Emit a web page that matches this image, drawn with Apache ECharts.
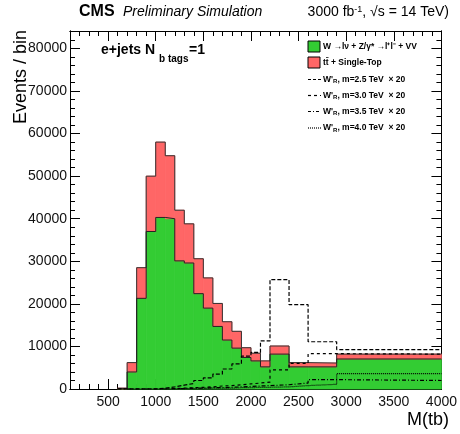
<!DOCTYPE html>
<html>
<head>
<meta charset="utf-8">
<script src="https://cdn.jsdelivr.net/npm/echarts@6/dist/echarts.min.js"></script>
<style>
html,body{margin:0;padding:0;background:#fff;}
#chart{width:460px;height:434px;}
</style>
</head>
<body>
<div id="chart"></div>
<script>
// ---- data ----
const binEdges = [600,700,800,900,1000,1100,1200,1300,1400,1500,1600,1700,1800,1900,2000,2100,2200,2400,2600,2900,4000];
const wjetsZjetsVV = [0,4000,21300,37000,40300,40000,30100,29600,22400,19000,14700,11500,9600,7400,6600,5200,8200,5200,5200,7050];
const ttbarSingleTop = [200,2200,7200,13000,17700,14800,11900,9200,8200,7100,5400,4300,3950,2300,1800,1400,1900,1000,900,1150];
const wprime25 = [0,0,0,0,200,500,900,1300,2000,2600,3500,4700,5900,7700,8600,11300,25700,19800,11100,9250];
const wprime30 = [0,0,0,0,0,100,200,300,400,500,700,800,1000,1200,1400,1600,4500,6000,8300,8200];
const wprime35 = [0,0,0,0,0,100,100,200,200,300,300,400,500,600,700,800,1000,1400,2200,2000];
const wprime40 = [0,0,0,0,0,0,100,100,100,200,200,200,300,300,400,400,500,800,1100,3600];
const xTickLabels = [500,1000,1500,2000,2500,3000,3500,4000];
const yTickLabels = [0,10000,20000,30000,40000,50000,60000,70000,80000];

// ---- helpers ----
const FONT = '"Liberation Sans", Arial, Helvetica, sans-serif';
const totals = wjetsZjetsVV.map((v, i) => v + ttbarSingleTop[i]);
const greenRects = wjetsZjetsVV.map((v, i) => [binEdges[i], binEdges[i + 1], 0, v]);
const redRects = ttbarSingleTop.map((v, i) => [binEdges[i], binEdges[i + 1], wjetsZjetsVV[i], totals[i]]);
function stepData(vals) {
  return binEdges.map((e, i) => [e, vals[Math.min(i, vals.length - 1)]]);
}
const xMinor = []; for (let v = 100; v <= 4000; v += 100) xMinor.push(v);
const yMinor = []; for (let v = 0; v <= 84000; v += 2000) yMinor.push(v);

function renderBin(params, api) {
  const p0 = api.coord([api.value(0), api.value(2)]);
  const p1 = api.coord([api.value(1), api.value(3)]);
  const c = api.visual('color');
  return {
    type: 'rect',
    shape: { x: p0[0], y: p1[1], width: p1[0] - p0[0], height: p0[1] - p1[1] },
    style: { fill: c, stroke: c, lineWidth: 0.8 }
  };
}

const XMIN = 100, XMAX = 4000, YMIN = 0, YMAX = 84100;
const black = { color: '#000', width: 1 };
function xAxisDef(pos, ticks, len, labels) {
  return {
    type: 'value', min: XMIN, max: XMAX, position: pos,
    axisLine: { show: true, onZero: false, lineStyle: black },
    axisTick: { show: true, inside: true, length: len, customValues: ticks, lineStyle: black },
    axisLabel: labels ? { show: true, customValues: xTickLabels, fontSize: 14, color: '#111', fontFamily: FONT, margin: 6, formatter: v => String(v) } : { show: false },
    splitLine: { show: false }
  };
}
function yAxisDef(pos, ticks, len, labels) {
  return {
    type: 'value', min: YMIN, max: YMAX, position: pos,
    axisLine: { show: true, onZero: false, lineStyle: black },
    axisTick: { show: true, inside: true, length: len, customValues: ticks, lineStyle: black },
    axisLabel: labels ? { show: true, customValues: yTickLabels, fontSize: 14, color: '#111', fontFamily: FONT, margin: 3, formatter: v => String(v) } : { show: false },
    splitLine: { show: false }
  };
}
function sigLine(name, vals, dash) {
  return {
    name: name, type: 'line', step: 'end', data: stepData(vals), symbol: 'none', silent: true, z: 5,
    lineStyle: { color: '#000', width: 1.2, type: dash }
  };
}

const chart = echarts.init(document.getElementById('chart'), null, { renderer: 'canvas' });
const legX = 308, legTx = 323;
const legFont = 'bold 8.5px ' + FONT;
const subRich = { n: { fontSize: 8.5, fontWeight: 'bold', fontFamily: FONT, color: '#000' }, s: { fontSize: 6, fontWeight: 'bold', fontFamily: FONT, color: '#000', verticalAlign: 'bottom', padding: [4, 0, 0, 0] } };
function legLine(y, dash) {
  return { type: 'line', shape: { x1: legX, y1: y, x2: legX + 13, y2: y }, style: { stroke: '#000', lineWidth: 1.2, lineDash: dash } };
}
function legWText(y, m) {
  return { type: 'text', x: legTx, y: y, style: { text: "{n|W'}{s|R}{n|, m=" + m + " TeV  \u00d7 20}", rich: subRich, verticalAlign: 'middle', align: 'left' } };
}

chart.setOption({
  animation: false,
  backgroundColor: '#fff',
  grid: { left: 70, right: 10, top: 31, bottom: 45, containLabel: false },
  xAxis: [
    xAxisDef('bottom', xTickLabels, 10, true),
    xAxisDef('bottom', xMinor, 5, false),
    xAxisDef('top', xTickLabels, 10, false),
    xAxisDef('top', xMinor, 5, false)
  ],
  yAxis: [
    yAxisDef('left', yTickLabels, 10, true),
    yAxisDef('left', yMinor, 5, false),
    yAxisDef('right', yTickLabels, 10, false),
    yAxisDef('right', yMinor, 5, false)
  ],
  series: [
    { name: 'W+Z+VV', type: 'custom', renderItem: renderBin, data: greenRects, itemStyle: { color: '#33cc33' }, silent: true, z: 1 },
    { name: 'ttbar', type: 'custom', renderItem: renderBin, data: redRects, itemStyle: { color: '#ff6666' }, silent: true, z: 1 },
    { name: 'total outline', type: 'line', step: 'end', data: stepData(totals), symbol: 'none', silent: true, z: 3, lineStyle: { color: '#333', width: 1 } },
    { name: 'wjets outline', type: 'line', step: 'end', data: stepData(wjetsZjetsVV), symbol: 'none', silent: true, z: 3, lineStyle: { color: '#222', width: 1 } },
    sigLine('W 2.5', wprime25, [4, 2]),
    sigLine('W 3.0', wprime30, [3, 3]),
    sigLine('W 3.5', wprime35, [4, 2, 1, 2]),
    sigLine('W 4.0', wprime40, [1, 1])
  ],
  graphic: [
    { type: 'text', x: 79, y: 11.5, style: { text: 'CMS', font: 'bold 16px ' + FONT, fill: '#000', verticalAlign: 'middle' } },
    { type: 'text', x: 123, y: 12.5, style: { text: 'Preliminary Simulation', font: 'italic 14px ' + FONT, fill: '#000', verticalAlign: 'middle' } },
    { type: 'text', x: 449, y: 12.5, style: { text: '{n|3000 fb}{u|-1}{n|, \u221as = 14 TeV)}', align: 'right', verticalAlign: 'middle',
        rich: { n: { fontSize: 14, fontFamily: FONT, color: '#000' }, u: { fontSize: 9, fontFamily: FONT, color: '#000', verticalAlign: 'top' } } } },
    { type: 'text', x: 21, y: 30, rotation: Math.PI / 2, style: { text: 'Events / bin', font: '18px ' + FONT, fill: '#000', align: 'right', verticalAlign: 'middle' } },
    { type: 'text', x: 449, y: 420, style: { text: 'M(tb)', font: '18px ' + FONT, fill: '#000', align: 'right', verticalAlign: 'middle' } },
    { type: 'text', x: 101, y: 50, style: { text: 'e+jets N', font: 'bold 14px ' + FONT, fill: '#000', verticalAlign: 'middle' } },
    { type: 'text', x: 159, y: 59.5, style: { text: 'b tags', font: 'bold 10px ' + FONT, fill: '#000', verticalAlign: 'middle' } },
    { type: 'text', x: 189, y: 50, style: { text: '=1', font: 'bold 14px ' + FONT, fill: '#000', verticalAlign: 'middle' } },
    { type: 'rect', shape: { x: legX, y: 41, width: 12, height: 11 }, style: { fill: '#33cc33', stroke: '#000', lineWidth: 1 } },
    { type: 'text', x: legTx, y: 46.5, style: { text: 'W \u2192l\u03bd + Z/\u03b3* \u2192l\u207al\u207b + VV', font: legFont, fill: '#000', verticalAlign: 'middle' } },
    { type: 'rect', shape: { x: legX, y: 57, width: 12, height: 11 }, style: { fill: '#ff6666', stroke: '#000', lineWidth: 1 } },
    { type: 'text', x: legTx, y: 62.5, style: { text: 't\u0074\u0304 + Single-Top', font: legFont, fill: '#000', verticalAlign: 'middle' } },
    legLine(79.5, [3, 2]), legWText(79.5, '2.5'),
    legLine(95.5, [3, 3]), legWText(95.5, '3.0'),
    legLine(111.5, [3, 2, 1, 2]), legWText(111.5, '3.5'),
    legLine(128, [1, 1]), legWText(128, '4.0')
  ]
});
</script>
</body>
</html>
